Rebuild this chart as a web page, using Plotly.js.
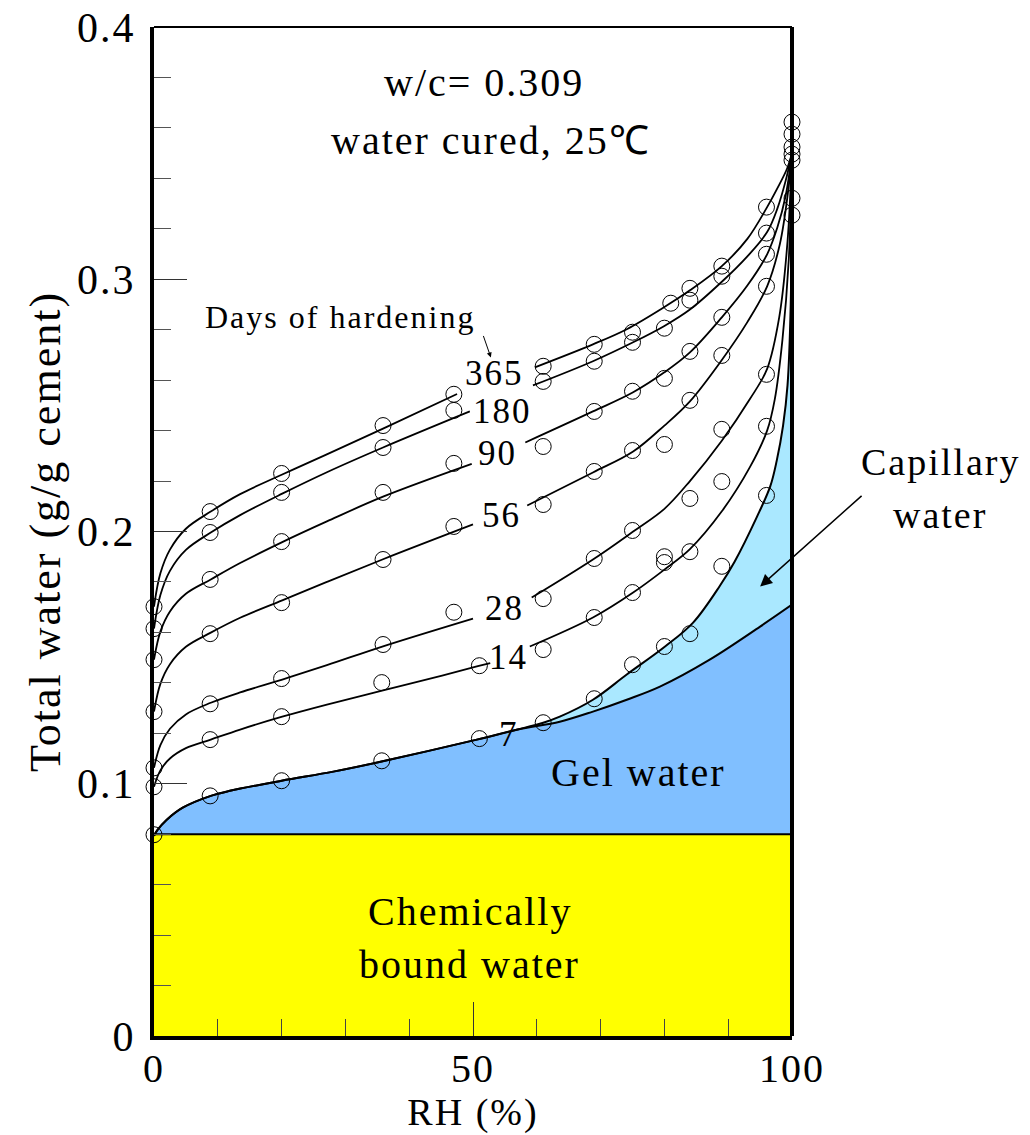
<!DOCTYPE html>
<html>
<head>
<meta charset="utf-8">
<script src="https://cdn.plot.ly/plotly-3.0.1.min.js"></script>
<style>
html,body{margin:0;padding:0;background:#fff;}
#chart{width:1030px;height:1135px;}
.main-svg text{letter-spacing:2px;}
</style>
</head>
<body>
<div id="chart"></div>
<script>
// ---------------- DATA ----------------
// Fitted curves (RH %, total water g/g cement); null = gap left for the curve label
const curve365X = [0, 1, 2.5, 5, 8.9, 13.5, 20.1, 27, 35.9, 47.5, null, 59.7, 68.8, 74.1, 80, 84, 89, 93, 96.1, 97.8, 99.2, 100];
const curve365Y = [0.1702, 0.1834, 0.1928, 0.2011, 0.2079, 0.2148, 0.2226, 0.2305, 0.2408, 0.2545, null, 0.2651, 0.2742, 0.2802, 0.289, 0.2956, 0.3052, 0.316, 0.3286, 0.3365, 0.3437, 0.350];

const curve180X = [0, 1, 2.5, 5, 8.9, 13.5, 20.1, 27.1, 35.9, 49.5, null, 59.4, 68.8, 75.1, 80, 84, 89, 93, 96.1, 97.7, 99, 100];
const curve180Y = [0.1615, 0.1748, 0.1844, 0.1927, 0.1996, 0.2065, 0.2150, 0.2235, 0.2333, 0.2476, null, 0.2579, 0.2675, 0.2750, 0.2815, 0.2880, 0.2990, 0.3091, 0.3187, 0.3280, 0.3390, 0.350];

const curve90X = [0, 1, 2.5, 5, 8.9, 13.5, 20.1, 27.1, 35.9, 49.8, null, 58.2, 68.8, 75.1, 80, 84, 89, 93, 96.1, 97.7, 99, 100];
const curve90Y = [0.1492, 0.1603, 0.1683, 0.1753, 0.1810, 0.1875, 0.1958, 0.2040, 0.2138, 0.2268, null, 0.2353, 0.2476, 0.2552, 0.2631, 0.2710, 0.2849, 0.2975, 0.3099, 0.3205, 0.3330, 0.350];

const curve56X = [0, 1, 2.5, 5, 8.9, 13.5, 20.1, 27.1, 35.9, 50, null, 58.5, 68.8, 75.1, 80, 84, 89, 93, 96.1, 98.1, 99.4, 100];
const curve56Y = [0.1286, 0.1396, 0.1474, 0.1543, 0.1599, 0.1658, 0.1727, 0.1800, 0.1890, 0.2028, null, 0.2103, 0.2234, 0.2317, 0.2420, 0.2516, 0.2680, 0.2830, 0.2972, 0.3140, 0.3350, 0.350];

const curve28X = [0, 1, 2.5, 5, 8.9, 13.5, 20.1, 27.1, 35.9, 50, null, 59.2, 68.8, 75.1, 80, 84, 89, 93.4, 96.1, 98, 99.3, 100];
const curve28Y = [0.1063, 0.1153, 0.1218, 0.1275, 0.1321, 0.1362, 0.1413, 0.1470, 0.1545, 0.1655, null, 0.1738, 0.1889, 0.2000, 0.2090, 0.2200, 0.2360, 0.2525, 0.2645, 0.2850, 0.3150, 0.350];

const curve14X = [0, 1, 2.5, 5, 8.9, 13.5, 20.1, 27.1, 35.9, 45, 50.6, 52.7, null, 58.9, 68.8, 75.1, 80, 84, 89, 93.4, 96.1, 97.3, 98.5, 99.5, 100];
const curve14Y = [0.0988, 0.1053, 0.1100, 0.1141, 0.1175, 0.1215, 0.1266, 0.1314, 0.1370, 0.1428, 0.1465, 0.1478, null, 0.1544, 0.1659, 0.1758, 0.1849, 0.1930, 0.2080, 0.2255, 0.2400, 0.2524, 0.2760, 0.3080, 0.350];

const curve7X = [0, 0.5, 2, 4.5, 8.9, 11.9, 20, 28.1, 35.5, 50.6, 57, 61, 63.6, 68.8, 74.1, 80.1, 84.5, 88.7, 91, 94.5, 96.6, 97.6, 98.6, 99.3, 99.8, 100];
const curve7Y = [0.0794, 0.0815, 0.0857, 0.0905, 0.0952, 0.0972, 0.1012, 0.1048, 0.1087, 0.1175, 0.1215, 0.1242, 0.1266, 0.1333, 0.1433, 0.1544, 0.1639, 0.1785, 0.1880, 0.2058, 0.2180, 0.2280, 0.2420, 0.2580, 0.2900, 0.350];

// Upper limit of gel water
const gelX = [0, 0.5, 2, 4.5, 8.9, 11.9, 20, 28.1, 35.5, 50.6, 57, 63.6, 68.8, 74.1, 79.3, 87.1, 95, 100];
const gelY = [0.0794, 0.0815, 0.0857, 0.0905, 0.0952, 0.0972, 0.1012, 0.1048, 0.1087, 0.1175, 0.1215, 0.1246, 0.1286, 0.1333, 0.1385, 0.1492, 0.1623, 0.171];

// Chemically bound water level
const boundX = [0, 100];
const boundY = [0.08, 0.08];

// Measured points
const rhA = [0, 8.8, 20, 35.9, 47, 61, 69, 75, 80, 84, 89, 96, 100];
const rh365 = [0, 8.8, 20, 35.9, 47, 61, 69, 75, 81, 84, 89, 96, 100];
const rhB = [0, 8.8, 20, 35.7, 51, 61, 69, 75, 80, 84, 89, 96, 100];
const pts365 = [0.1702, 0.2079, 0.2230, 0.2420, 0.2544, 0.2655, 0.2742, 0.2790, 0.2905, 0.2964, 0.3052, 0.3286, 0.3623];
const pts180 = [0.1615, 0.1996, 0.2155, 0.2333, 0.2480, 0.2595, 0.2675, 0.2750, 0.2806, 0.2917, 0.3012, 0.3183, 0.3575];
const pts90  = [0.1492, 0.1810, 0.1960, 0.2155, 0.2270, 0.2337, 0.2476, 0.2556, 0.2607, 0.2714, 0.2849, 0.3099, 0.3524];
const pts56  = [0.1286, 0.1595, 0.1718, 0.1889, 0.2020, 0.2107, 0.2238, 0.2321, 0.2345, 0.2520, 0.2698, 0.2972, 0.3496];
const pts28  = [0.1063, 0.1317, 0.1417, 0.1552, 0.1680, 0.1734, 0.1893, 0.2004, 0.1900, 0.2131, 0.2405, 0.2623, 0.3472];
const pts14  = [0.0988, 0.1175, 0.1266, 0.1401, 0.1468, 0.1532, 0.1659, 0.1758, 0.1877, 0.1920, 0.2198, 0.2417, 0.3321];
const pts7   = [0.0798, 0.0952, 0.1012, 0.1091, 0.1179, 0.1242, 0.1337, 0.1472, 0.1544, 0.1595, 0.1862, 0.2143, 0.3254];

const xTicks = [0, 50, 100];
const xTickText = ['0', '50', '100'];
const yTicks = [0, 0.1, 0.2, 0.3, 0.4];
const yTickText = ['0', '0.1', '0.2', '0.3', '0.4'];

// ---------------- STYLE ----------------
const FONT = '"Liberation Serif", "Times New Roman", serif';
const lineStyle = {color: '#000', width: 1.8, shape: 'spline', smoothing: 1};
const fillLine = {color: '#000', width: 2, shape: 'spline', smoothing: 1};

const traces = [
  {x: boundX, y: boundY, mode: 'lines', fill: 'tozeroy', fillcolor: '#ffff00',
   line: {color: '#000', width: 2}, hoverinfo: 'skip'},
  {x: gelX, y: gelY, mode: 'lines', fill: 'tonexty', fillcolor: '#80bfff', line: fillLine, hoverinfo: 'skip'},
  {x: curve7X, y: curve7Y, mode: 'lines', fill: 'tonexty', fillcolor: '#aae8ff', line: fillLine, hoverinfo: 'skip'},
  {x: curve14X, y: curve14Y, mode: 'lines', line: lineStyle},
  {x: curve28X, y: curve28Y, mode: 'lines', line: lineStyle},
  {x: curve56X, y: curve56Y, mode: 'lines', line: lineStyle},
  {x: curve90X, y: curve90Y, mode: 'lines', line: lineStyle},
  {x: curve180X, y: curve180Y, mode: 'lines', line: lineStyle},
  {x: curve365X, y: curve365Y, mode: 'lines', line: lineStyle}
];

const markerStyle = {symbol: 'circle-open', size: 16, color: '#000', line: {width: 1, color: '#000'}};
[[rhA, pts180], [rh365, pts365], [rhA, pts90], [rhA, pts56], [rhA, pts28], [rhB, pts14], [rhB, pts7]]
  .forEach(([xs, ys]) => traces.push({x: xs, y: ys, mode: 'markers', marker: markerStyle, cliponaxis: false}));

function label(text, x, y, size, xref) {
  return {text: text, x: x, y: y, xref: xref || 'x', yref: 'y', showarrow: false,
          font: {family: FONT, size: size, color: '#000'}, xanchor: 'center', yanchor: 'middle'};
}

const annotations = [
  label('w/c= 0.309', 51.7, 0.378, 40),
  label('water cured, 25\u2103', 52.8, 0.355, 40),
  label('Days of hardening', 29.1, 0.285, 32),
  label('365', 53.4, 0.2625, 35),
  label('180', 54.7, 0.2475, 35),
  label('90', 53.9, 0.231, 35),
  label('56', 54.5, 0.2063, 35),
  label('28', 55.0, 0.1694, 35),
  label('14', 55.5, 0.150, 35),
  label('7', 55.6, 0.1194, 35),
  label('Gel water', 76, 0.1044, 40),
  label('Capillary', 1.232, 0.2274, 38, 'paper'),
  label('water', 1.232, 0.2067, 38, 'paper'),
  label('Chemically', 49.5, 0.0492, 40),
  label('bound water', 49.5, 0.0282, 40),
  {text: '', x: 52.8, y: 0.269, xref: 'x', yref: 'y', showarrow: true, ax: -8, ay: -23,
   arrowhead: 2, arrowsize: 1, arrowwidth: 1, arrowcolor: '#000'},
  {text: '', x: 95.0, y: 0.1782, xref: 'x', yref: 'y', showarrow: true, ax: 103, ay: -92,
   arrowhead: 2, arrowsize: 1.6, arrowwidth: 1.5, arrowcolor: '#000'}
];

const layout = {
  width: 1030, height: 1135,
  margin: {l: 154, r: 238, t: 27, b: 99, pad: 0},
  paper_bgcolor: '#fff', plot_bgcolor: '#fff',
  showlegend: false,
  font: {family: FONT, color: '#000'},
  xaxis: {
    range: [0, 100], tickvals: xTicks, ticktext: xTickText,
    ticks: 'inside', ticklen: 34, tickwidth: 1, tickcolor: '#333',
    minor: {dtick: 10, tick0: 0, ticks: 'inside', ticklen: 17, tickwidth: 1, tickcolor: '#444'},
    showline: true, linewidth: 4, linecolor: '#000', mirror: false,
    showgrid: false, zeroline: false,
    tickfont: {family: FONT, size: 40, color: '#000'},
    ticklabelstandoff: -6,
    title: {text: 'RH (%)', font: {family: FONT, size: 38, color: '#000'}, standoff: 2}
  },
  yaxis: {
    range: [0, 0.4], tickvals: yTicks, ticktext: yTickText,
    ticks: 'inside', ticklen: 33, tickwidth: 1, tickcolor: '#333',
    minor: {dtick: 0.02, tick0: 0, ticks: 'inside', ticklen: 17, tickwidth: 1, tickcolor: '#555'},
    showline: true, linewidth: 4, linecolor: '#000', mirror: false,
    showgrid: false, zeroline: false,
    tickfont: {family: FONT, size: 42, color: '#000'},
    ticklabelstandoff: 6,
    title: {text: 'Total water (g/g cement)', font: {family: FONT, size: 44, color: '#000'}, standoff: 10}
  },
  shapes: [
    {type: 'line', xref: 'paper', yref: 'paper', x0: 0, x1: 1, y0: 1, y1: 1, line: {color: '#000', width: 2}},
    {type: 'line', xref: 'paper', yref: 'paper', x0: 1, x1: 1, y0: 0, y1: 1, line: {color: '#000', width: 4}}
  ],
  annotations: annotations
};

Plotly.newPlot('chart', traces, layout, {staticPlot: true, displayModeBar: false});
</script>
</body>
</html>
